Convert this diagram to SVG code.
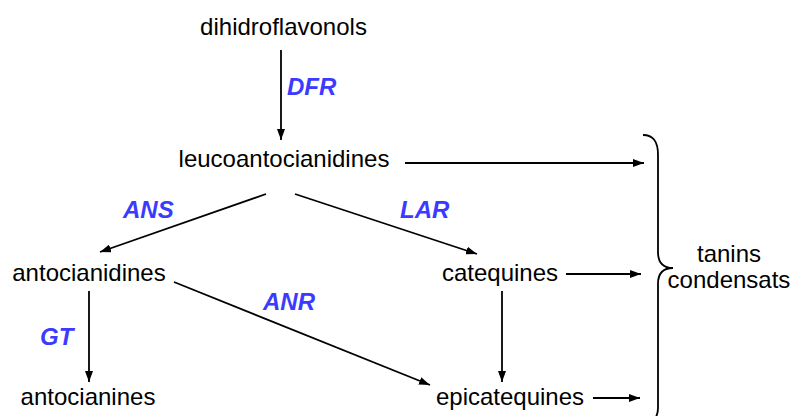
<svg xmlns="http://www.w3.org/2000/svg" width="792" height="416" viewBox="0 0 792 416">
  <defs>
    <marker id="arrow" viewBox="0 0 11 8" refX="11" refY="4" markerWidth="11" markerHeight="8" markerUnits="userSpaceOnUse" orient="auto">
      <path d="M0,0 L11,4 L0,8 Z" fill="#000"/>
    </marker>
    <style>
      .node { font-family: "Liberation Sans", Arial, sans-serif; font-size: 24px; fill: #000; }
      .enz { font-family: "Liberation Sans", Arial, sans-serif; font-size: 24px; font-weight: bold; font-style: italic; fill: #3b3bff; }
      .edge { stroke: #000; stroke-width: 1.8; fill: none; marker-end: url(#arrow); }
      .brace { stroke: #000; stroke-width: 1.8; fill: none; }
    </style>
  </defs>
  <rect width="792" height="416" fill="#fff"/>

  <g id="connectors">
    <line class="edge" x1="281" y1="50" x2="281" y2="140"/>
    <line class="edge" x1="405" y1="163" x2="644" y2="163"/>
    <line class="edge" x1="266" y1="194" x2="100" y2="252"/>
    <line class="edge" x1="295" y1="194" x2="477" y2="254"/>
    <line class="edge" x1="566" y1="274" x2="641" y2="274"/>
    <line class="edge" x1="89" y1="291" x2="89" y2="382"/>
    <line class="edge" x1="174" y1="282" x2="430" y2="385"/>
    <line class="edge" x1="502" y1="291" x2="502" y2="382"/>
    <line class="edge" x1="593" y1="398" x2="640" y2="398"/>
  </g>

  <g id="enzymes">
    <text class="enz" x="287" y="95">DFR</text>
    <text class="enz" x="123" y="218">ANS</text>
    <text class="enz" x="400" y="218">LAR</text>
    <text class="enz" x="263" y="310">ANR</text>
    <text class="enz" x="40" y="345">GT</text>
  </g>

  <g id="dihidroflavonols"><text class="node" x="283.5" y="35" text-anchor="middle">dihidroflavonols</text></g>
  <g id="leucoantocianidines"><text class="node" x="284" y="167" text-anchor="middle">leucoantocianidines</text></g>
  <g id="antocianidines"><text class="node" x="89" y="281" text-anchor="middle">antocianidines</text></g>
  <g id="catequines"><text class="node" x="500" y="281" text-anchor="middle">catequines</text></g>
  <g id="antocianines"><text class="node" x="88" y="405" text-anchor="middle">antocianines</text></g>
  <g id="epicatequines"><text class="node" x="510" y="405" text-anchor="middle">epicatequines</text></g>

  <g id="tanins-condensats">
    <path class="brace" d="M643,135 C654,135 658,142 658,155 L658,252 C658,262 662,268 673,268 C662,268 658,274 658,284 L658,408 C658,416 655,420 650,422"/>
    <text class="node" x="729" y="262" text-anchor="middle">tanins</text>
    <text class="node" x="729" y="288" text-anchor="middle">condensats</text>
  </g>
</svg>
